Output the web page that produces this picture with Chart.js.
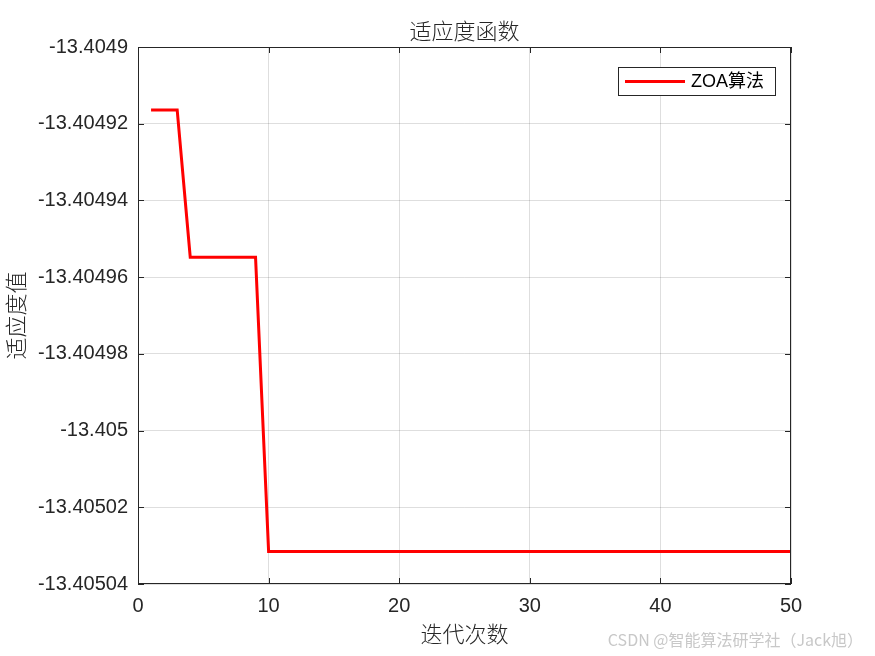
<!DOCTYPE html>
<html>
<head>
<meta charset="utf-8">
<script src="https://cdn.jsdelivr.net/npm/chart.js@4/dist/chart.umd.min.js"></script>
<style>
  html, body { margin: 0; padding: 0; background: #fff; }
  #wrap { width: 875px; height: 656px; }
</style>
</head>
<body>
<div id="wrap"><canvas id="fit-chart" width="875" height="656"></canvas></div>
<script>
// iteration numbers and best fitness per iteration
const iterations = [1, 2, 3, 4, 5, 6, 7, 8, 9, 10,
    11, 12, 13, 14, 15, 16, 17, 18, 19, 20,
    21, 22, 23, 24, 25, 26, 27, 28, 29, 30,
    31, 32, 33, 34, 35, 36, 37, 38, 39, 40,
    41, 42, 43, 44, 45, 46, 47, 48, 49, 50];
const fitness = [-13.4049164, -13.4049164, -13.4049164, -13.4049548, -13.4049548,
    -13.4049548, -13.4049548, -13.4049548, -13.4049548, -13.4050315,
    -13.4050315, -13.4050315, -13.4050315, -13.4050315, -13.4050315,
    -13.4050315, -13.4050315, -13.4050315, -13.4050315, -13.4050315,
    -13.4050315, -13.4050315, -13.4050315, -13.4050315, -13.4050315,
    -13.4050315, -13.4050315, -13.4050315, -13.4050315, -13.4050315,
    -13.4050315, -13.4050315, -13.4050315, -13.4050315, -13.4050315,
    -13.4050315, -13.4050315, -13.4050315, -13.4050315, -13.4050315,
    -13.4050315, -13.4050315, -13.4050315, -13.4050315, -13.4050315,
    -13.4050315, -13.4050315, -13.4050315, -13.4050315, -13.4050315];
const yTicks = [-13.4049, -13.40492, -13.40494, -13.40496, -13.40498,
    -13.405, -13.40502, -13.40504];
const xTicks = [0, 10, 20, 30, 40, 50];

const seriesName = 'ZOA算法';
const chartTitle = '适应度函数';
const xTitle = '迭代次数';
const yTitle = '适应度值';
const watermark = 'CSDN @智能算法研学社（Jack旭）';

const cjk = '"Noto Sans CJK SC", "Noto Sans", sans-serif';
const tickFont = { family: 'Liberation Sans, Arial, sans-serif', size: 20 };

// box, inward ticks, titles, legend and watermark, matlab style
const matlabDecor = {
    id: 'matlabDecor',
    afterDraw(chart) {
        const c = chart.ctx;
        const a = chart.chartArea;
        const xs = chart.scales.x, ys = chart.scales.y;
        c.save();
        c.strokeStyle = '#262626';
        c.lineWidth = 1;
        c.strokeRect(a.left + 0.5, a.top + 0.5, a.right - a.left - 1, a.bottom - a.top - 1);
        c.beginPath();
        xTicks.forEach(v => {
            const px = Math.round(xs.getPixelForValue(v)) + 0.5;
            c.moveTo(px, a.bottom); c.lineTo(px, a.bottom - 6);
            c.moveTo(px, a.top); c.lineTo(px, a.top + 6);
        });
        yTicks.forEach(v => {
            const py = Math.round(ys.getPixelForValue(v)) + 0.5;
            c.moveTo(a.left, py); c.lineTo(a.left + 6, py);
            c.moveTo(a.right, py); c.lineTo(a.right - 6, py);
        });
        c.stroke();

        c.fillStyle = '#262626';
        c.textAlign = 'center';
        c.textBaseline = 'middle';
        c.font = '300 22px ' + cjk;
        c.fillText(chartTitle, (a.left + a.right) / 2, 31);
        c.fillText(xTitle, (a.left + a.right) / 2, 634);
        c.save();
        c.translate(16, (a.top + a.bottom) / 2);
        c.rotate(-Math.PI / 2);
        c.fillText(yTitle, 0, 0);
        c.restore();

        // legend box
        const lx = 618, ly = 67, lw = 157, lh = 28;
        c.fillStyle = '#fff';
        c.fillRect(lx, ly, lw, lh);
        c.strokeStyle = '#262626';
        c.strokeRect(lx + 0.5, ly + 0.5, lw, lh);
        c.strokeStyle = '#ff0000';
        c.lineWidth = 3;
        c.beginPath();
        c.moveTo(625, ly + lh / 2 + 0.5);
        c.lineTo(685, ly + lh / 2 + 0.5);
        c.stroke();
        c.fillStyle = '#000';
        c.textAlign = 'left';
        c.font = '18px "Liberation Sans", ' + cjk;
        c.fillText(seriesName, 691, ly + lh / 2 + 1);

        c.fillStyle = '#c8c8c8';
        c.textAlign = 'right';
        c.font = '16px ' + cjk;
        c.fillText(watermark, 863, 640);
        c.restore();
    }
};

const ctx = document.getElementById('fit-chart');
const chart = new Chart(ctx, {
    type: 'line',
    data: {
        datasets: [{
            label: seriesName,
            data: iterations.map((it, i) => ({ x: it, y: fitness[i] })),
            borderColor: '#ff0000',
            borderWidth: 3,
            pointRadius: 0,
            tension: 0,
            fill: false,
        }],
    },
    options: {
        responsive: false,
        animation: false,
        layout: {
            padding: { left: 0, right: 84, top: 47, bottom: 0 }
        },
        plugins: {
            legend: { display: false },
            title: { display: false },
            tooltip: { enabled: false },
        },
        scales: {
            x: {
                type: 'linear',
                min: 0,
                max: 50,
                afterBuildTicks: s => { s.ticks = xTicks.map(v => ({ value: v })); },
                afterFit: s => { s.height = 72; },
                grid: { color: 'rgba(0,0,0,0.13)', drawTicks: false },
                border: { display: false },
                ticks: { color: '#262626', font: tickFont, padding: 10, maxRotation: 0 },
            },
            y: {
                type: 'linear',
                min: -13.40504,
                max: -13.4049,
                afterBuildTicks: s => { s.ticks = yTicks.map(v => ({ value: v })); },
                afterFit: s => { s.width = 138; },
                grid: { color: 'rgba(0,0,0,0.13)', drawTicks: false },
                border: { display: false },
                ticks: {
                    color: '#262626',
                    font: tickFont,
                    padding: 10,
                    callback: v => String(Number(v.toFixed(5))),
                },
            }
        }
    },
    plugins: [matlabDecor]
});
</script>
</body>
</html>
